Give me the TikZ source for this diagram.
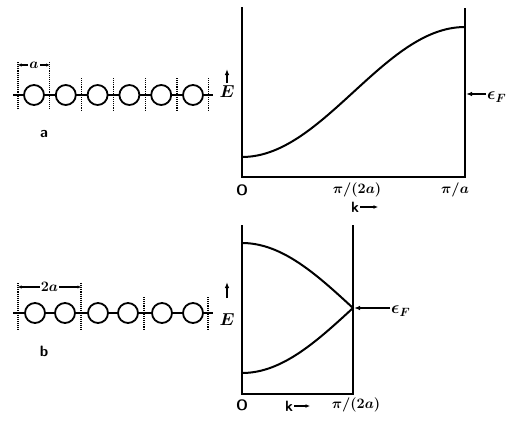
\documentclass[tikz,border=0pt]{standalone}
\usetikzlibrary{arrows.meta}
\begin{document}
\begin{tikzpicture}[x=1pt,y=-1pt,
  axis/.style={line width=1.8pt},
  band/.style={line width=2pt},
  chainline/.style={line width=1.6pt},
  atom/.style={circle,draw,line width=1.8pt,minimum size=20pt,inner sep=0pt,fill=white},
  cell/.style={line width=1.2pt,dash pattern=on 1.1pt off 1pt},
  arr/.style={line width=1.3pt,-{Latex[length=6pt,width=4.5pt]}},
  lab/.style={font=\fontsize{15}{17}\selectfont\bfseries\sffamily,inner sep=1pt},
  mlab/.style={font=\fontsize{14}{16}\selectfont\boldmath,inner sep=1pt},
  big/.style={font=\fontsize{17}{19}\selectfont\boldmath,inner sep=1pt}]
\useasboundingbox (0,0) rectangle (506,423);

% ---------- chain a ----------
\coordinate (la0) at (13,95);
\coordinate (la1) at (213,95);
\draw[chainline] (la0) -- (la1);
\foreach \i in {0,...,6} {
  \coordinate (da\i t) at ({18+31.8*\i},78);
  \coordinate (da\i b) at ({18+31.8*\i},110);
}
\coordinate (da0t) at (18,62);
\coordinate (da1t) at (49.8,62);
\foreach \i in {0,...,6} { \draw[cell] (da\i t) -- (da\i b); }
\foreach \i in {0,...,5} { \node[atom] (ca\i) at ({34+31.8*\i},95) {}; }
\node[mlab,fill=white] (dima) at (34,65) {$a$};
\coordinate (dimaL) at (18,65);
\coordinate (dimaR) at (49.8,65);
\draw[arr,-{Latex[length=3.5pt,width=3.5pt]}] (dima.west) -- (dimaL);
\draw[arr,-{Latex[length=3.5pt,width=3.5pt]}] (dima.east) -- (dimaR);
\node[lab] (labela) at (44,134) {a};

% ---------- chain b ----------
\coordinate (lb0) at (13,313);
\coordinate (lb1) at (213,313);
\draw[chainline] (lb0) -- (lb1);
\foreach \i/\x in {0/18,1/81,2/144,3/208} {
  \coordinate (db\i t) at (\x,297);
  \coordinate (db\i b) at (\x,330);
}
\coordinate (db0t) at (18,283);
\coordinate (db1t) at (81,283);
\foreach \i in {0,...,3} { \draw[cell] (db\i t) -- (db\i b); }
\foreach \i/\x in {0/35,1/65,2/98,3/128,4/162,5/193} { \node[atom] (cb\i) at (\x,313) {}; }
\node[mlab,fill=white] (dimb) at (49.5,287) {$2a$};
\coordinate (dimbL) at (18,287);
\coordinate (dimbR) at (81,287);
\draw[arr,-{Latex[length=3.5pt,width=3.5pt]}] (dimb.west) -- (dimbL);
\draw[arr,-{Latex[length=3.5pt,width=3.5pt]}] (dimb.east) -- (dimbR);
\node[lab] (labelb) at (44,351) {b};

% ---------- graph a ----------
\coordinate (ga0) at (242,7);
\coordinate (ga1) at (242,177);
\coordinate (ga2) at (465,177);
\coordinate (ga3) at (465,8);
\draw[axis] (ga0) -- (ga1) -- (ga2) -- (ga3);
\draw[band] plot[domain=0:1,samples=60,smooth] ({242+223*\x},{92+65*cos(180*\x)});
\node[big] (Ea) at (227,92) {$E$};
\coordinate (Eatip) at (227,69);
\draw[arr] (227,83) -- (Eatip);
\node[big,anchor=west] (EFa) at (486,97) {$\epsilon_F$};
\coordinate (EFatip) at (466,94);
\draw[arr] (EFa.west |- EFatip) -- (EFatip);
\node[lab] (Oa) at (242,190) {O};
\node[mlab] (pia2) at (357,190) {$\pi/(2a)$};
\node[mlab] (pia) at (455,190) {$\pi/a$};
\node[lab] (ka) at (355,207) {k};
\coordinate (katip) at (378,207);
\draw[arr,-{Latex[length=4.5pt,width=4pt]}] (ka.east) -- (katip);

% ---------- graph b ----------
\coordinate (gb0) at (242,225);
\coordinate (gb1) at (242,394);
\coordinate (gb2) at (353,394);
\coordinate (gb3) at (353,225);
\draw[axis] (gb0) -- (gb1) -- (gb2) -- (gb3);
\draw[band] plot[domain=0:1,samples=50,smooth] ({242+111*\x},{308-65*cos(90*\x)});
\draw[band] plot[domain=0:1,samples=50,smooth] ({242+111*\x},{308+65*cos(90*\x)});
\node[big] (Eb) at (227,320) {$E$};
\coordinate (Ebtip) at (227,282);
\draw[arr] (227,298) -- (Ebtip);
\node[big,anchor=west] (EFb) at (390,311) {$\epsilon_F$};
\coordinate (EFbtip) at (354,308);
\draw[arr] (EFb.west |- EFbtip) -- (EFbtip);
\node[lab] (Ob) at (242,405) {O};
\node[lab] (kb) at (289,406) {k};
\coordinate (kbtip) at (310,406);
\draw[arr,-{Latex[length=4.5pt,width=4pt]}] (kb.east) -- (kbtip);
\node[mlab] (pib) at (356,405) {$\pi/(2a)$};
\end{tikzpicture}
\end{document}
